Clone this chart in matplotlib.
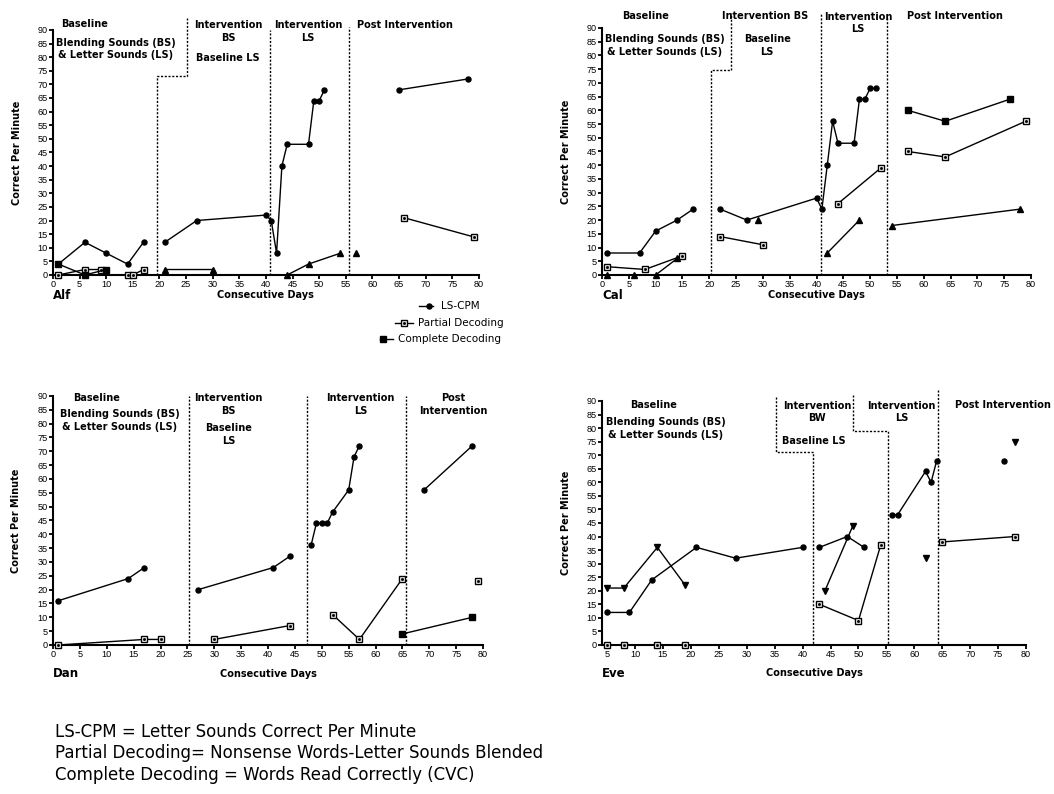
import matplotlib
matplotlib.use("Agg")
import matplotlib.pyplot as plt
from matplotlib.lines import Line2D
import numpy as np

nan = np.nan

# Alf
alf_cpm_x = [1, 6, 10, 14, 17, nan, 21, 27, 40, 41, 42, 43, 44, 48, 49, 50, 51, nan, 65, 78]
alf_cpm_y = [4, 12, 8, 4, 12, nan, 12, 20, 22, 20, 8, 40, 48, 48, 64, 64, 68, nan, 68, 72]
alf_part_x = [1, 6, 9, nan, 14, 15, 17, nan, 66, 79]
alf_part_y = [0, 2, 2, nan, 0, 0, 2, nan, 21, 14]
alf_comp_x = [1, 6, 10]
alf_comp_y = [4, 0, 2]
alf_tri_x = [21, 30, nan, 44, 48, 54, nan, 57]
alf_tri_y = [2, 2, nan, 0, 4, 8, nan, 8]

# Cal
cal_cpm_x = [1, 7, 10, 14, 17, nan, 22, 27, 40, 41, 42, 43, 44, 47, 48, 49, 50, 51]
cal_cpm_y = [8, 8, 16, 20, 24, nan, 24, 20, 28, 24, 40, 56, 48, 48, 64, 64, 68, 68]
cal_part_x = [1, 8, 15, nan, 22, 30, nan, 44, 52, nan, 57, 64, 79]
cal_part_y = [3, 2, 7, nan, 14, 11, nan, 26, 39, nan, 45, 43, 56]
cal_comp_x = [57, 64, 76]
cal_comp_y = [60, 56, 64]
cal_tri_x = [1, 6, 10, 14, nan, 29, nan, 42, 48, nan, 54, 78]
cal_tri_y = [0, 0, 0, 6, nan, 20, nan, 8, 20, nan, 18, 24]

# Dan
dan_cpm_x = [1, 14, 17, nan, 27, 41, 44, nan, 48, 49, 50, 51, 52, 55, 56, 57, nan, 69, 78]
dan_cpm_y = [16, 24, 28, nan, 20, 28, 32, nan, 36, 44, 44, 44, 48, 56, 68, 72, nan, 56, 72]
dan_part_x = [1, 17, 20, nan, 30, 44, nan, 52, 57, 65, nan, 79]
dan_part_y = [0, 2, 2, nan, 2, 7, nan, 11, 2, 24, nan, 23]
dan_comp_x = [65, 78]
dan_comp_y = [4, 10]

# Eve
eve_cpm_x = [5, 9, 13, 21, 28, 40, nan, 43, 48, 51, nan, 56, 57, 62, 63, 64, nan, 76]
eve_cpm_y = [12, 12, 24, 36, 32, 36, nan, 36, 40, 36, nan, 48, 48, 64, 60, 68, nan, 68]
eve_part_x = [5, 8, 14, 19, nan, 43, 50, 54, nan, 65, 78]
eve_part_y = [0, 0, 0, 0, nan, 15, 9, 37, nan, 38, 40]
eve_tri_x = [5, 8, 14, 19, nan, 44, 49, nan, 62, nan, 78]
eve_tri_y = [21, 21, 36, 22, nan, 20, 44, nan, 32, nan, 75]

BOLD = dict(family="DejaVu Sans", fontweight="bold", fontsize=7, color="black")
PHASE = dict(color="black", lw=1.0, linestyle=(0, (1.5, 1.2)), clip_on=False)

fig = plt.figure(figsize=(10.54, 7.94), dpi=100)


def setup(ax, xmin, name, name_off):
    ax.set_xlim(xmin, 80)
    ax.set_ylim(0, 90)
    ax.set_xticks(np.arange(0 if xmin < 1 else 5, 81, 5))
    ax.set_yticks(np.arange(0, 91, 5))
    for s in ["top", "right"]:
        ax.spines[s].set_visible(False)
    for s in ["left", "bottom"]:
        ax.spines[s].set_linewidth(1.5)
    ax.tick_params(direction="out", length=3, width=1.3, pad=0.8, labelsize=6.6)
    for lab in ax.get_xticklabels() + ax.get_yticklabels():
        lab.set_family("Liberation Sans")
    ax.text(-0.085, 0.5, "Correct Per Minute", transform=ax.transAxes,
            rotation=90, ha="center", va="center", **BOLD)
    ax.text(0.5, name_off, "Consecutive Days", transform=ax.transAxes,
            ha="center", va="center", **BOLD)
    ax.text(0.0, name_off, name, transform=ax.transAxes, ha="left", va="center",
            family="DejaVu Sans", fontweight="bold", fontsize=8.5)


def series(ax, x, y, kind):
    if kind == "cpm":
        ax.plot(x, y, color="black", lw=1, marker="o", ms=3.6, clip_on=False, zorder=3)
    elif kind == "part":
        ax.plot(x, y, color="black", lw=1, marker="s", ms=4.2, mfc="white",
                mec="black", mew=1.0, clip_on=False, zorder=3)
        ax.plot(x, y, ls="none", marker="s", ms=1.0, color="black", clip_on=False, zorder=4)
    elif kind == "comp":
        ax.plot(x, y, color="black", lw=1, marker="s", ms=4.2, clip_on=False, zorder=3)
    elif kind == "tri":
        ax.plot(x, y, color="black", lw=1, marker="^", ms=4.2, clip_on=False, zorder=3)
    elif kind == "tridown":
        ax.plot(x, y, color="black", lw=1, marker="v", ms=4.0, clip_on=False, zorder=3)


def label(ax, x, y, s):
    ax.text(x, y, s, ha="center", va="center", linespacing=1.35, clip_on=False, **BOLD)


# Alf
ax1 = fig.add_axes([0.0503, 0.6537, 0.404, 0.3086])
setup(ax1, 0, "Alf", -0.083)
ax1.plot([19.5, 19.5, 25.2, 25.2], [0, 73, 73, 94.4], **PHASE)
ax1.plot([40.8, 40.8], [0, 90], **PHASE)
ax1.plot([55.7, 55.7], [0, 91], **PHASE)
series(ax1, alf_cpm_x, alf_cpm_y, "cpm")
series(ax1, alf_part_x, alf_part_y, "part")
series(ax1, alf_comp_x, alf_comp_y, "comp")
series(ax1, alf_tri_x, alf_tri_y, "tri")
label(ax1, 6.0, 92.2, "Baseline")
label(ax1, 11.8, 83.0, "Blending Sounds (BS)\n& Letter Sounds (LS)")
label(ax1, 32.9, 89.5, "Intervention\nBS")
label(ax1, 32.9, 79.7, "Baseline LS")
label(ax1, 47.9, 89.5, "Intervention\nLS")
label(ax1, 66.1, 91.8, "Post Intervention")

# Cal
ax2 = fig.add_axes([0.5712, 0.6537, 0.407, 0.3111])
setup(ax2, 0, "Cal", -0.083)
ax2.plot([20.4, 20.4, 24, 24], [0, 74.6, 74.6, 95.5], **PHASE)
ax2.plot([40.75, 40.75], [0, 95.5], **PHASE)
ax2.plot([53.1, 53.1], [0, 93.7], **PHASE)
series(ax2, cal_cpm_x, cal_cpm_y, "cpm")
series(ax2, cal_part_x, cal_part_y, "part")
series(ax2, cal_comp_x, cal_comp_y, "comp")
series(ax2, cal_tri_x, cal_tri_y, "tri")
label(ax2, 8.2, 94.4, "Baseline")
label(ax2, 11.7, 83.5, "Blending Sounds (BS)\n& Letter Sounds (LS)")
label(ax2, 30.4, 94.4, "Intervention BS")
label(ax2, 30.8, 83.5, "Baseline\nLS")
label(ax2, 47.7, 91.8, "Intervention\nLS")
label(ax2, 65.8, 94.4, "Post Intervention")

# Dan
ax3 = fig.add_axes([0.0503, 0.1877, 0.408, 0.3136])
setup(ax3, 0, "Dan", -0.115)
ax3.plot([25.3, 25.3], [0, 90], **PHASE)
ax3.plot([47.2, 47.2], [0, 90], **PHASE)
ax3.plot([65.7, 65.7], [0, 90], **PHASE)
series(ax3, dan_cpm_x, dan_cpm_y, "cpm")
series(ax3, dan_part_x, dan_part_y, "part")
series(ax3, dan_comp_x, dan_comp_y, "comp")
label(ax3, 8.1, 89.3, "Baseline")
label(ax3, 12.4, 81.1, "Blending Sounds (BS)\n& Letter Sounds (LS)")
label(ax3, 32.7, 87.0, "Intervention\nBS")
label(ax3, 32.7, 76.1, "Baseline\nLS")
label(ax3, 57.2, 86.9, "Intervention\nLS")
label(ax3, 74.4, 86.9, "Post\nIntervention")

# Eve
ax4 = fig.add_axes([0.5712, 0.1877, 0.4023, 0.3073])
setup(ax4, 4.1, "Eve", -0.115)
ax4.plot([35.2, 35.2, 41.8, 41.8], [91.5, 71, 71, 0], **PHASE)
ax4.plot([49.0, 49.0, 55.2, 55.2], [92.1, 79, 79, 0], **PHASE)
ax4.plot([64.2, 64.2], [94, 0], **PHASE)
series(ax4, eve_cpm_x, eve_cpm_y, "cpm")
series(ax4, eve_part_x, eve_part_y, "part")
series(ax4, eve_tri_x, eve_tri_y, "tridown")
label(ax4, 13.3, 88.5, "Baseline")
label(ax4, 15.5, 79.7, "Blending Sounds (BS)\n& Letter Sounds (LS)")
label(ax4, 42.6, 85.9, "Intervention\nBW")
label(ax4, 42.0, 75.3, "Baseline LS")
label(ax4, 57.7, 85.9, "Intervention\nLS")
label(ax4, 75.9, 88.5, "Post Intervention")

# key under the first panel
W, H = 1054.0, 794.0
key = [
    (419, 433, 428.7, 306, 440.7, "LS-CPM", dict(marker="o", ms=3.6, mfc="black")),
    (395, 413, 404.0, 323, 418.0, "Partial Decoding", dict(marker="s", ms=4.2, mfc="white")),
    (380, 393, 383.0, 339, 398.0, "Complete Decoding", dict(marker="s", ms=4.2, mfc="black")),
]
for x0, x1, xm, yy, xt, txt, mk in key:
    fig.add_artist(Line2D([x0 / W, x1 / W], [1 - yy / H] * 2, color="black", lw=1,
                          transform=fig.transFigure))
    fig.add_artist(Line2D([xm / W], [1 - yy / H], color="black", mec="black",
                          mew=1.0, transform=fig.transFigure, **mk))
    if txt == "Partial Decoding":
        fig.add_artist(Line2D([xm / W], [1 - yy / H], marker="s", ms=1.0, color="black",
                              transform=fig.transFigure))
    fig.text(xt / W, 1 - yy / H, txt, ha="left", va="center",
             family="DejaVu Sans", fontsize=7.5)

notes = ["LS-CPM = Letter Sounds Correct Per Minute",
         "Partial Decoding= Nonsense Words-Letter Sounds Blended",
         "Complete Decoding = Words Read Correctly (CVC)"]
for i, line in enumerate(notes):
    fig.text(55 / W, 1 - (732 + 21.5 * i) / H, line, ha="left", va="center",
             family="DejaVu Sans", fontsize=12)

fig.savefig("out.png", dpi=100)
